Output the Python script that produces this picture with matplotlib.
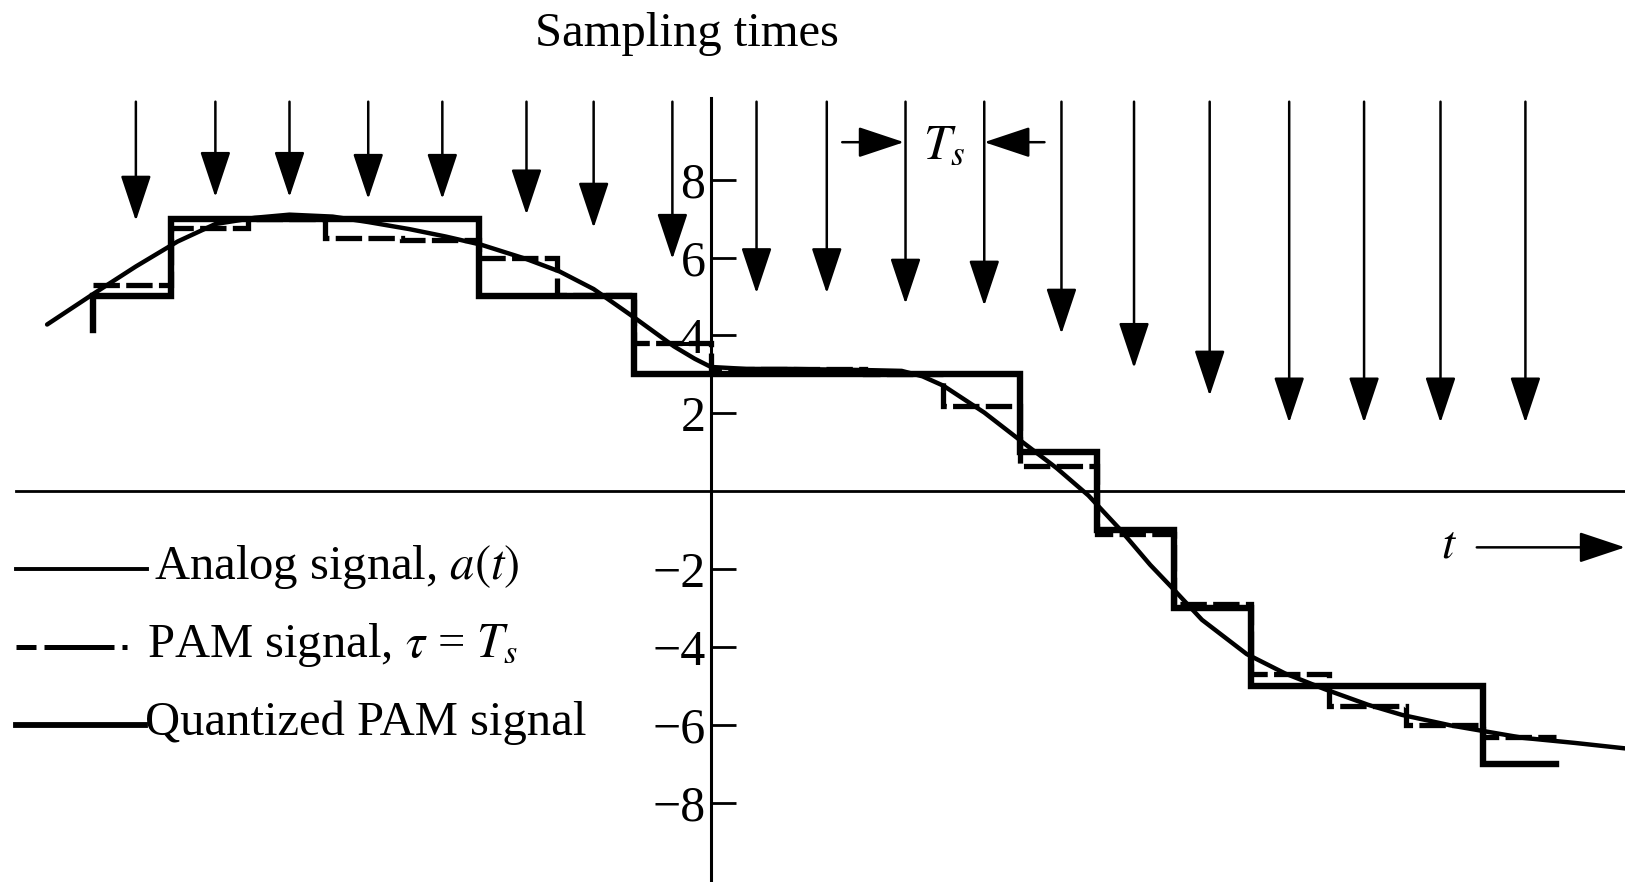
import numpy as np
import matplotlib
matplotlib.use('Agg')
import matplotlib.pyplot as plt

plt.rcParams['font.family'] = ['Liberation Serif', 'DejaVu Serif']
plt.rcParams['mathtext.fontset'] = 'stix'
plt.rcParams['axes.unicode_minus'] = True

# time in units of Ts, vertical axis at t = 0
edges = [-8, -7, -6, -5, -4, -3, -2, -1, 0, 1, 2, 3, 4, 5, 6, 7, 8, 9, 10, 10.95]
quant = [5, 7, 7, 7, 7, 5, 5, 3, 3, 3, 3, 3, 1, -1, -3, -5, -5, -5, -7]
quant_start = 4.15
pam = [5.3, 6.75, 7.0, 6.5, 6.45, 6.0, 5.05, 3.8, 3.15, 3.15, 3.0, 2.2,
       0.65, -1.1, -2.9, -4.7, -5.5, -6.0, -6.3]

# analog signal a(t)
a_t = [-8.60, -7.99, -7.45, -6.91, -6.42, -5.91, -5.46, -4.90, -4.44, -3.91,
       -3.44, -2.98, -2.39, -1.96, -1.52, -0.98, -0.48, -0.21, 0.0, 0.46,
       1.02, 2.01, 2.47, 2.74, 3.01, 3.54, 4.01, 4.48, 4.89, 5.29,
       5.69, 5.97, 6.36, 6.94, 7.44, 7.95, 8.51, 8.95, 9.58, 9.96,
       10.52, 11.19, 11.84]
a_v = [4.28, 5.08, 5.77, 6.41, 6.86, 7.02, 7.10, 7.05, 6.91, 6.73,
       6.54, 6.33, 5.96, 5.64, 5.19, 4.44, 3.72, 3.40, 3.19, 3.14,
       3.14, 3.11, 3.09, 2.95, 2.71, 2.02, 1.30, 0.59, -0.11, -0.96,
       -1.89, -2.47, -3.30, -4.18, -4.68, -5.08, -5.48, -5.74, -6.01, -6.14,
       -6.33, -6.46, -6.60]

# sampling-time arrows
samp_t = [-7.45, -6.42, -5.46, -4.44, -3.48, -2.39, -1.52, -0.50, 0.59, 1.50,
          2.52, 3.54, 4.54, 5.48, 6.46, 7.49, 8.46, 9.45, 10.55]
samp_tip = [6.94, 7.55, 7.55, 7.50, 7.50, 7.10, 6.76, 5.96, 5.08, 5.08,
            4.81, 4.76, 4.04, 3.16, 2.45, 1.76, 1.76, 1.76, 1.76]
samp_top = 10.0

yticks = [-8, -6, -4, -2, 2, 4, 6, 8]

fig = plt.figure(figsize=(16.25, 8.82), dpi=100)
ax = fig.add_axes([0, 0, 1, 1])
ax.set_xlim(-9.21, 11.84)
ax.set_ylim(-10.03, 12.61)

# axes through the origin
for s in ['top', 'right']:
    ax.spines[s].set_visible(False)
ax.spines['left'].set_position(('data', 0))
ax.spines['bottom'].set_position(('data', 0))
ax.spines['left'].set_bounds(-10.1, 10.1)
ax.spines['bottom'].set_bounds(-9.0, 11.9)
ax.spines['left'].set_linewidth(2.2)
ax.spines['bottom'].set_linewidth(2.0)
ax.set_xticks([])
ax.set_yticks(yticks)
ax.tick_params(axis='y', direction='in', length=18, width=2.0, pad=4,
               labelsize=36)

# signals
ax.plot(a_t, a_v, color='black', lw=3.2, solid_capstyle='round')
ax.stairs(pam, edges, baseline=None, color='black', lw=3.8,
          linestyle=(0, (5, 1.2)))
qx = np.concatenate([[edges[0]], np.repeat(edges, 2)[1:-1]])
qy = np.concatenate([[quant_start], np.repeat(quant, 2)])
ax.plot(qx, qy, color='black', lw=4.6, solid_joinstyle='miter')

# sampling arrows
arrow_kw = dict(arrowstyle='-|>,head_length=1.8,head_width=0.6',
                mutation_scale=16, color='black', lw=1.8,
                shrinkA=0, shrinkB=0)
for t, tip in zip(samp_t, samp_tip):
    ax.annotate('', xy=(t, tip), xytext=(t, samp_top), arrowprops=arrow_kw)

ax.text(-0.31, 11.75, 'Sampling times', ha='center', va='center', fontsize=35)

# Ts marker
ax.annotate('', xy=(2.50, 8.96), xytext=(1.70, 8.96), arrowprops=arrow_kw)
ax.annotate('', xy=(3.54, 8.96), xytext=(4.32, 8.96), arrowprops=arrow_kw)
ax.text(3.02, 8.85, r'$T_s$', ha='center', va='center', fontsize=36)

# t arrow
ax.annotate('', xy=(11.84, -1.44), xytext=(9.92, -1.44), arrowprops=arrow_kw)
ax.text(9.56, -1.40, r'$t$', ha='center', va='center', fontsize=34)

# legend, drawn by hand
ax.plot([-9.0, -7.30], [-2, -2], color='black', lw=2.8)
ax.text(-7.22, -1.95, r'Analog signal, $a(t)$', ha='left', va='center',
        fontsize=35)
ax.plot([-9.0, -7.35], [-4, -4], color='black', lw=3.6,
        linestyle=(0, (4, 1.6, 14, 1.6, 1, 5)))
ax.text(-7.30, -3.95, r'PAM signal, $\tau$ = $T_s$', ha='left', va='center',
        fontsize=35)
ax.plot([-9.0, -7.33], [-6, -6], color='black', lw=4.2)
ax.text(-7.33, -5.95, 'Quantized PAM signal', ha='left', va='center',
        fontsize=35)

plt.savefig('out.png', dpi=100)
